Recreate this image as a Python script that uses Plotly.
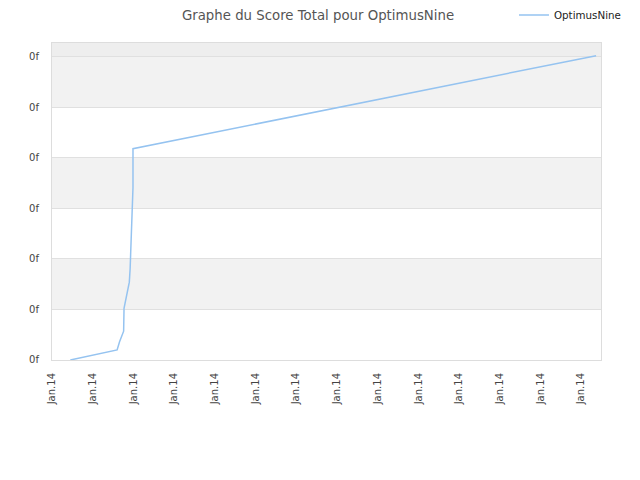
import pandas as pd
import plotly.graph_objects as go

# dates (jan 2014) and score values
dates = pd.to_datetime('2014-01-01') + pd.to_timedelta(
    [0.45, 1.60, 1.66, 1.76, 1.77, 1.84, 1.90, 1.92, 1.94, 1.96, 1.97, 1.99, 1.99, 13.37], unit='D')
scores = [0.0, 0.20, 0.36, 0.57, 1.02, 1.32, 1.54, 1.81, 2.40, 2.79, 3.09, 3.41, 4.18, 6.02]

y_tick_vals = [0, 1, 2, 3, 4, 5, 6]
y_tick_labels = ['0f'] * 7
x_start = pd.to_datetime('2014-01-01')
x_end = x_start + pd.Timedelta(days=13.49)
y_top = 6.28

fig = go.Figure()
fig.add_trace(go.Scatter(x=dates, y=scores, mode='lines', name='OptimusNine',
                         line=dict(color='#95c3f0', width=1.5)))

# bandes grises alternees
for y0, y1, col in [(1, 2, '#f2f2f2'), (3, 4, '#f2f2f2'), (5, 6, '#f2f2f2'), (6, y_top, '#eeeeee')]:
    fig.add_shape(type='rect', xref='paper', x0=0, x1=1, yref='y', y0=y0, y1=y1,
                  fillcolor=col, line_width=0, layer='below')

fig.update_layout(
    width=640, height=480,
    margin=dict(l=44, r=47, t=33, b=128),
    plot_bgcolor='white', paper_bgcolor='white',
    font=dict(family='DejaVu Sans', size=10, color='#444'),
    title=dict(text='Graphe du Score Total pour OptimusNine', x=0.4844, xanchor='center',
               xref='container', y=0.9854, yref='container', yanchor='middle',
               font=dict(size=13.3, color='#555')),
    showlegend=True,
    legend=dict(x=1.0455, xanchor='right', y=0.9854, yref='container', yanchor='middle',
                font=dict(size=10.3, color='#222'), bgcolor='rgba(0,0,0,0)'),
    xaxis=dict(type='date', range=[x_start, x_end], dtick=86400000, tick0=x_start,
               tickformat='%b.%y', tickangle=-90, showgrid=False,
               showline=True, linecolor='#dddddd', mirror=True, ticks='',
               ticklabelstandoff=8,
               tickfont=dict(size=10, color='#444')),
    yaxis=dict(range=[0, y_top], tickvals=y_tick_vals, ticktext=y_tick_labels,
               showgrid=True, gridcolor='#e0e0e0', zeroline=False,
               showline=True, linecolor='#dddddd', mirror=True,
               ticklabelstandoff=10,
               tickfont=dict(size=10, color='#444')),
)

fig.write_html("out.html")
